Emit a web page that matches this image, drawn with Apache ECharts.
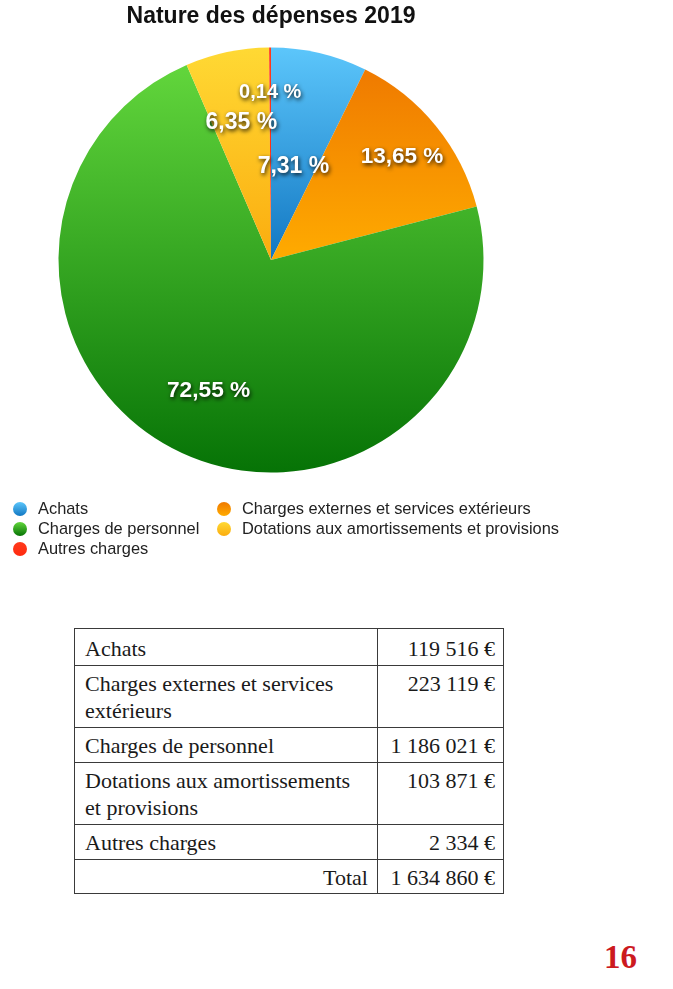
<!DOCTYPE html>
<html><head><meta charset="utf-8">
<script src="https://cdn.jsdelivr.net/npm/echarts@6/dist/echarts.min.js"></script>
<style>
html,body{margin:0;padding:0;background:#fff;width:673px;height:989px;overflow:hidden}
#chart{position:absolute;left:0;top:0;width:673px;height:600px}
#tbl{position:absolute;left:74px;top:628px;width:430px;border-collapse:collapse;font-family:"Liberation Serif","DejaVu Serif",serif;font-size:22px;color:#1a1a1a}
#tbl td{border:1px solid #3a3a3a;padding:4px 14px 3px 10px;line-height:27px;vertical-align:top}
#tbl td.v{text-align:right;padding:4px 8px 3px 6px;white-space:nowrap;width:111px}
#tbl tr:first-child td{padding-top:6px}
#tbl tr:last-child td{padding-bottom:2px}
#tbl td.t{text-align:right;padding-right:9px}
#page{position:absolute;left:604px;top:939px;font-family:"Liberation Serif",serif;font-weight:bold;font-size:33px;color:#cc1a1f}
</style>
</head><body>
<div id="chart"></div>
<table id="tbl"></table>
<div id="page"></div>
<script>
const title = 'Nature des dépenses 2019';
const categories = ['Achats', 'Charges externes et services extérieurs', 'Charges de personnel', 'Dotations aux amortissements et provisions', 'Autres charges'];
const values = [119516, 223119, 1186021, 103871, 2334];
const totalLabel = 'Total';
const totalValue = 1634860;
const pageNumber = '16';

const gradients = [
  ['#5cc6fb', '#1277c2'],
  ['#ef7a00', '#ffab00'],
  ['#62d63c', '#067306'],
  ['#ffd934', '#fbac0e'],
  ['#ff3a1c', '#ff2a10']
];
// radial placement of labels, as a fraction of the radius, and their font size
const labelRadius = [0.45, 0.78, 0.655, 0.66, 0.79];
const labelSize = [23, 22.5, 22.7, 23, 20];

const total = values.reduce((a, b) => a + b, 0);
const R = 212.5;
let cum = 0;
const data = values.map((v, i) => {
  const mid = (cum + v / 2) / total * 2 * Math.PI;
  cum += v;
  const d = (labelRadius[i] - 0.5) * R;
  return {
    name: categories[i],
    value: v,
    itemStyle: {
      color: { type: 'linear', x: 0, y: 0, x2: 0, y2: 1,
        colorStops: [{ offset: 0, color: gradients[i][0] }, { offset: 1, color: gradients[i][1] }] }
    },
    label: { fontSize: labelSize[i], offset: [d * Math.sin(mid), -d * Math.cos(mid) + 3] }
  };
});

const fmt = n => String(n).replace(/\B(?=(\d{3})+(?!\d))/g, '\u00a0') + '\u00a0€';
const pct = v => (v / total * 100).toFixed(2).replace('.', ',') + ' %';

const chart = echarts.init(document.getElementById('chart'), null, { renderer: 'canvas' });
const legendCommon = {
  orient: 'vertical', top: 501, padding: 0, itemGap: 4,
  itemWidth: 14, itemHeight: 14, icon: 'circle',
  textStyle: { fontFamily: 'Liberation Sans, Arial, sans-serif', fontSize: 16.4, color: '#222', padding: [0, 0, 0, 6] },
  selectedMode: false
};
chart.setOption({
  animation: false,
  title: {
    text: title, left: 271, top: 5, padding: 0, textAlign: 'center',
    textStyle: { fontFamily: 'Liberation Sans, Arial, sans-serif', fontWeight: 'bold', fontSize: 23, color: '#111' }
  },
  legend: [
    Object.assign({ left: 13, data: [categories[0], categories[2], categories[4]] }, legendCommon),
    Object.assign({ left: 217, data: [categories[1], categories[3]] }, legendCommon)
  ],
  series: [{
    type: 'pie',
    center: [271, 260],
    radius: R,
    startAngle: 90,
    clockwise: true,
    avoidLabelOverlap: false,
    itemStyle: { borderWidth: 0 },
    label: {
      show: true, position: 'inside',
      formatter: p => pct(p.value),
      fontFamily: 'Liberation Sans, Arial, sans-serif', fontWeight: 'bold', fontSize: 23, color: '#fff',
      textShadowColor: 'rgba(0,0,0,0.85)', textShadowBlur: 4, textShadowOffsetX: 1, textShadowOffsetY: 2
    },
    labelLine: { show: false },
    emphasis: { disabled: true },
    data: data
  }]
});

const tbl = document.getElementById('tbl');
let html = '';
categories.forEach((c, i) => { html += '<tr><td>' + c + '</td><td class="v">' + fmt(values[i]) + '</td></tr>'; });
html += '<tr><td class="t">' + totalLabel + '</td><td class="v">' + fmt(totalValue) + '</td></tr>';
tbl.innerHTML = html;
document.getElementById('page').textContent = pageNumber;
</script>
</body></html>
